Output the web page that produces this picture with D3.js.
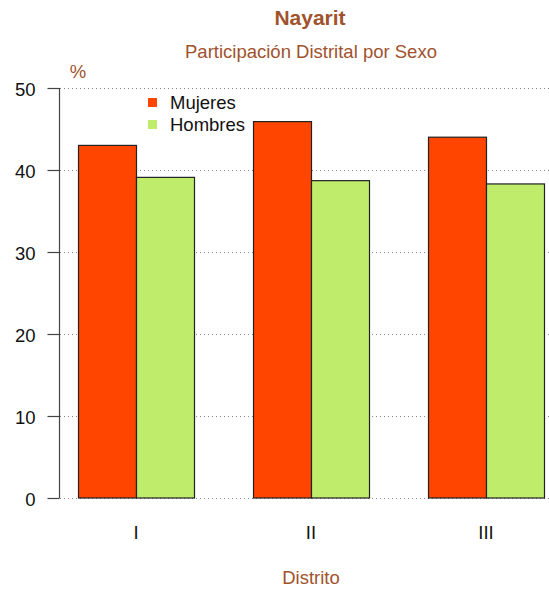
<!DOCTYPE html>
<html><head><meta charset="utf-8">
<script src="https://cdn.jsdelivr.net/npm/d3@7"></script>
<style>body{margin:0;background:#fff}svg{display:block;font-family:"Liberation Sans",Arial,sans-serif}</style>
</head><body><svg id="c" width="549" height="589"></svg>
<script>
const districts = ["I","II","III"];
const series = ["Mujeres","Hombres"];
const mujeres = [43.0, 45.9, 44.0];
const hombres = [39.1, 38.7, 38.3];
const yTicks = [0,10,20,30,40,50];
const colors = ["#FF4500","#BFEC6B"];

const FS = 18.5;
const svg = d3.select("#c");
const titleColor = "#A0522D";
const y = d3.scaleLinear().domain([0,50]).range([498,88]);
const gx = d3.scalePoint().domain(districts).range([136,486]);
const x1 = d3.scaleBand().domain(series).range([-58,58]);

// grid
svg.append("g").selectAll("line").data(yTicks).join("line")
  .attr("x1",60).attr("x2",549).attr("y1",d=>y(d)+0.5).attr("y2",d=>y(d)+0.5)
  .attr("stroke","#888").attr("stroke-dasharray","1,3").attr("stroke-width",1);

// axis
const ax = svg.append("g").attr("transform","translate(59.5,0)")
  .call(d3.axisLeft(y).tickValues(yTicks).tickSize(12).tickPadding(12));
ax.select(".domain").attr("stroke","#444").attr("d","M0,"+y(0)+"V"+y(50)).attr("stroke-width",1.2);
ax.selectAll(".tick line").attr("stroke","#444").attr("stroke-width",1.2);
ax.selectAll(".tick text").attr("font-size",FS).attr("fill","#111").attr("font-family","Liberation Sans, Arial, sans-serif").attr("dy","0.4em");

const data = districts.map((d,i)=>({d, vals:[mujeres[i],hombres[i]]}));
const g = svg.append("g");
data.forEach(row=>{
  row.vals.forEach((v,j)=>{
    g.append("rect")
      .attr("x", gx(row.d)+x1(series[j])+0.5)
      .attr("y", y(v))
      .attr("width", x1.bandwidth())
      .attr("height", y(0)-y(v))
      .attr("fill", colors[j]).attr("stroke","#222").attr("stroke-width",1.2);
  });
});

// x labels
svg.append("g").selectAll("text").data(districts).join("text")
  .attr("x",d=>gx(d)).attr("y",539).attr("text-anchor","middle")
  .attr("font-size",FS).attr("fill","#111").text(d=>d);

// titles
svg.append("text").attr("x",310).attr("y",25).attr("text-anchor","middle")
  .attr("font-size",21).attr("font-weight","bold").attr("fill",titleColor).text("Nayarit");
svg.append("text").attr("x",311).attr("y",58).attr("text-anchor","middle")
  .attr("font-size",FS).attr("fill",titleColor).text("Participación Distrital por Sexo");
svg.append("text").attr("x",78).attr("y",78).attr("text-anchor","middle")
  .attr("font-size",FS).attr("fill",titleColor).text("%");
svg.append("text").attr("x",311).attr("y",584).attr("text-anchor","middle")
  .attr("font-size",FS).attr("fill",titleColor).text("Distrito");

// legend
const lg = svg.append("g");
series.forEach((s,i)=>{
  lg.append("rect").attr("x",148).attr("y",98+i*22).attr("width",9).attr("height",9).attr("fill",colors[i]);
  lg.append("text").attr("x",170).attr("y",109+i*22).attr("font-size",FS).attr("fill","#111").text(s);
});
</script></body></html>
